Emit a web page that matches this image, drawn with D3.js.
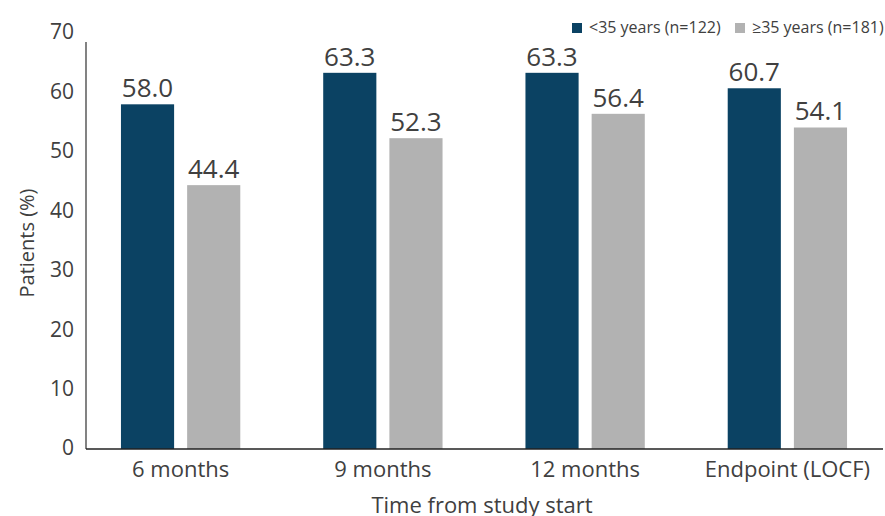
<!DOCTYPE html>
<html>
<head>
<meta charset="utf-8">
<script src="https://cdn.jsdelivr.net/npm/d3@7"></script>
<style>
  html, body { margin: 0; padding: 0; background: #fff; }
  svg { display: block; font-family: "Open Sans", "Noto Sans", sans-serif; }
</style>
</head>
<body>
<svg id="chart" width="885" height="516"></svg>
<script>
// Share of patients by time point and age group
const categories = ["6 months", "9 months", "12 months", "Endpoint (LOCF)"];
const seriesNames = ["<35 years (n=122)", "\u226535 years (n=181)"];
const under35 = [58.0, 63.3, 63.3, 60.7];
const over35 = [44.4, 52.3, 56.4, 54.1];
const yTicks = [0, 10, 20, 30, 40, 50, 60, 70];
const colors = ["#0b4263", "#b2b2b2"];

const svg = d3.select("#chart");
const textColor = "#404040";

const axisLeft = 86, axisRight = 883, y0 = 449, yTop = 33;

const y = d3.scaleLinear().domain([0, 70]).range([y0, yTop]);

const x0 = d3.scaleBand()
  .domain(categories)
  .range([79.5, 888.5])
  .paddingInner(0.41)
  .paddingOuter(0.205);

const x1 = d3.scaleBand()
  .domain([0, 1])
  .range([0, x0.bandwidth()])
  .paddingInner(0.197);

const rows = categories.map((c, i) => ({ cat: c, vals: [under35[i], over35[i]] }));

// Bars
const groups = svg.append("g").selectAll("g")
  .data(rows).join("g")
  .attr("transform", d => `translate(${x0(d.cat)},0)`);

groups.selectAll("rect")
  .data(d => d.vals.map((v, s) => ({ v, s })))
  .join("rect")
  .attr("x", d => x1(d.s))
  .attr("width", x1.bandwidth())
  .attr("y", d => y(d.v))
  .attr("height", d => y0 - y(d.v))
  .attr("fill", d => colors[d.s]);

// Value labels
groups.selectAll("text")
  .data(d => d.vals.map((v, s) => ({ v, s })))
  .join("text")
  .attr("x", d => x1(d.s) + x1.bandwidth() / 2)
  .attr("y", d => y(d.v) - 7)
  .attr("text-anchor", "middle")
  .attr("font-size", 26)
  .attr("fill", textColor)
  .text(d => d.v.toFixed(1));

// Y axis
const yAxis = svg.append("g")
  .attr("transform", `translate(${axisLeft},0)`)
  .call(d3.axisLeft(y).tickValues(yTicks).tickSize(0).tickPadding(12));
yAxis.select(".domain").attr("stroke", "#404040").attr("stroke-width", 1.3)
  .attr("d", `M0,${y(70) + 9}V${y0}`);
yAxis.selectAll("text").attr("font-size", 21).attr("fill", textColor)
  .attr("dy", "0.28em")
  .attr("font-family", "Open Sans, sans-serif");

// X axis
const xAxis = svg.append("g")
  .attr("transform", `translate(0,${y0})`)
  .call(d3.axisBottom(x0).tickSize(0).tickPadding(12));
xAxis.select(".domain").attr("stroke", "#222").attr("stroke-width", 1.5)
  .attr("d", `M${axisLeft},0H${axisRight}`);
xAxis.selectAll("text").attr("font-size", 22).attr("fill", textColor)
  .attr("font-family", "Open Sans, sans-serif");

// Axis titles
svg.append("text")
  .attr("transform", `translate(34,${(y0 + yTop) / 2 + 2}) rotate(-90)`)
  .attr("text-anchor", "middle")
  .attr("font-size", 20)
  .attr("fill", textColor)
  .text("Patients (%)");

svg.append("text")
  .attr("x", 482)
  .attr("y", 513)
  .attr("text-anchor", "middle")
  .attr("font-size", 22)
  .attr("fill", textColor)
  .text("Time from study start");

// Legend
const legendX = [572, 735];
const legend = svg.append("g").selectAll("g")
  .data(seriesNames).join("g")
  .attr("transform", (d, i) => `translate(${legendX[i]},23)`);
legend.append("rect").attr("width", 10).attr("height", 10)
  .attr("fill", (d, i) => colors[i]);
legend.append("text").attr("x", 17).attr("y", 10)
  .attr("font-size", 16).attr("fill", textColor)
  .text(d => d);
</script>
</body>
</html>
